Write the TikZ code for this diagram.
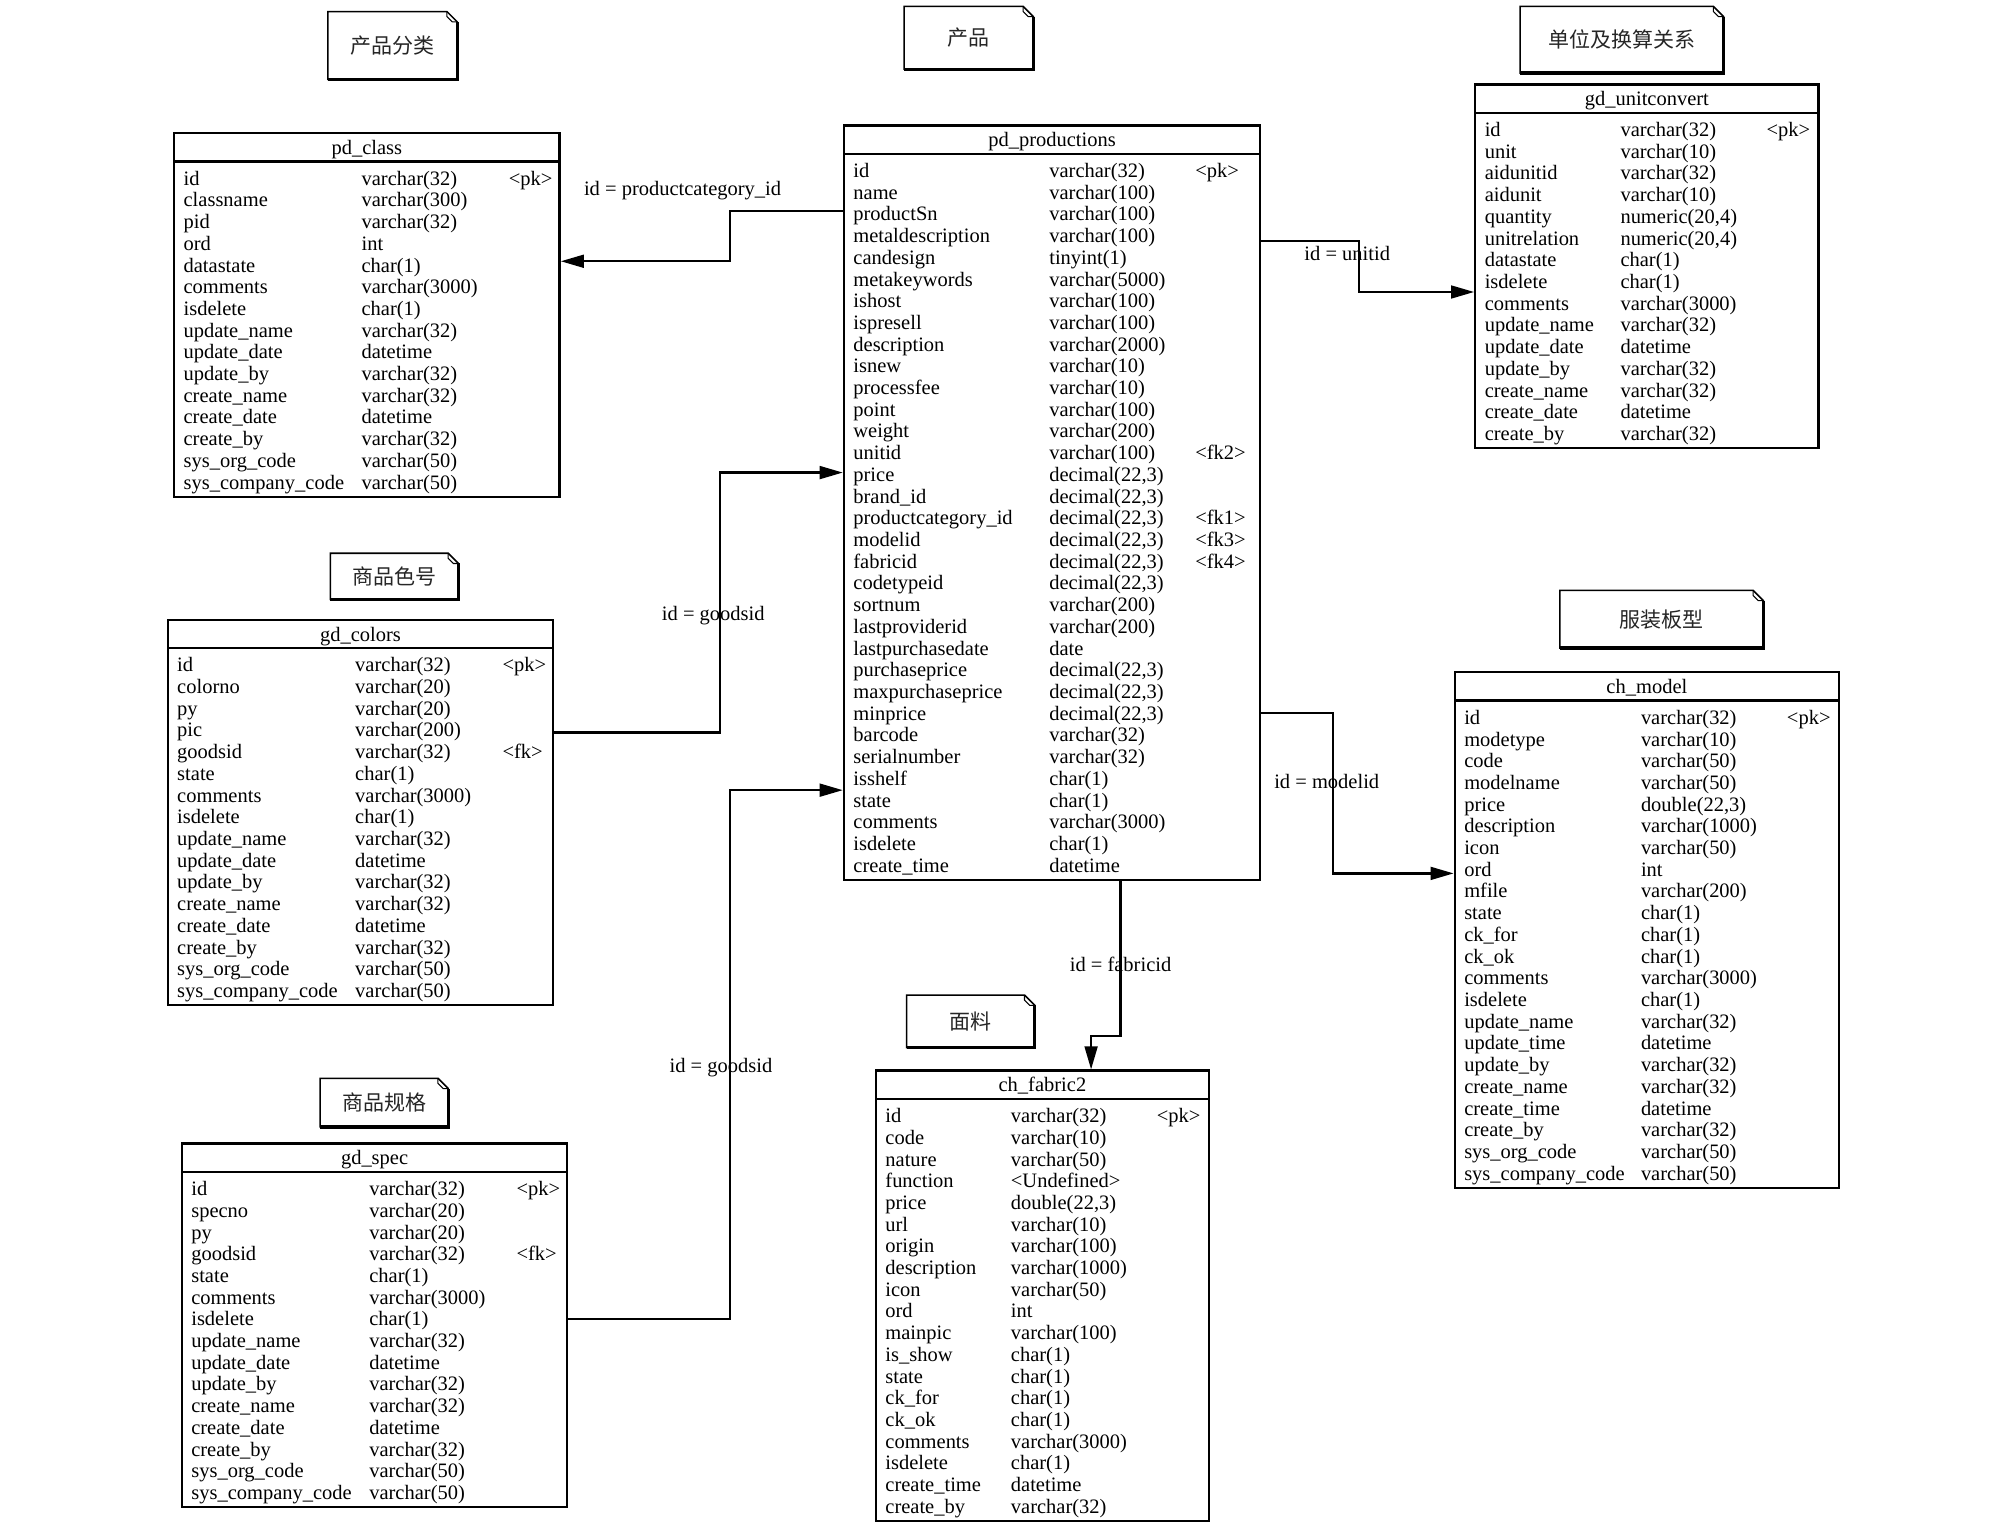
\documentclass[tikz,border=0pt]{standalone}
\usepackage{fontspec}
\setmainfont{Liberation Serif}
\newfontfamily\cjk{Noto Sans CJK SC}
\usetikzlibrary{arrows.meta,fit}
\newcommand\rowfont{\fontsize{8}{9}\selectfont}
\tikzset{
  tblline/.style={line width=0.9pt},
  rowtxt/.style={font=\rowfont, inner sep=0pt, anchor=west, text height=5.8pt, text depth=1.7pt},
  lbl/.style={font=\rowfont, inner sep=0pt},
  notetxt/.style={font=\cjk\fontsize{8.2}{9}\selectfont, inner sep=0pt, text=black!85},
  notel/.style={line width=0.6pt},
  fk/.style={line width=0.9pt, -{Triangle[length=9pt,width=5pt]}},
}
% #1 name, #2 title, #3 x1, #4 y1, #5 x2, #6 rows count, #7 type col x, #8 key col x, #9 rows
\newcommand\erd[9]{%
  \pgfmathsetmacro\erdyb{#4+46.7+(#6-1)*16.95}%
  \node[fit={(#3,#4) (#5,\erdyb)}, inner sep=0pt, draw, tblline] (#1) {};
  \draw[tblline] (#3,#4+22) -- (#5,#4+22);
  \node[rowtxt, anchor=center] (#1-title) at ({(#3+#5)/2},#4+12.5) {#2};
  \foreach \rA/\rB/\rC [count=\i from 0] in {#9} {
    \node[rowtxt] (#1-a\i) at (#3+7,#4+36.5+\i*16.95) {\rA};
    \node[rowtxt] (#1-b\i) at (#7,#4+36.5+\i*16.95) {\rB};
    \node[rowtxt] (#1-c\i) at (#8,#4+36.5+\i*16.95) {\rC};
  }%
}
% #1 name, #2 x1, #3 y1, #4 x2, #5 y2, #6 text
\newcommand\erdnote[6]{%
  \node[notetxt] (#1) at ({(#2+#4)/2},{(#3+#5)/2}) {#6};
  \draw[notel] (#2,#3) -- (#4-8,#3) -- (#4,#3+8) -- (#4,#5) -- (#2,#5) -- cycle;
  \draw[line width=0.4pt] (#4-8,#3) -- (#4-8,#3+4) -- (#4-4,#3+8) -- (#4,#3+8);
  \draw[line width=1.2pt] (#4,#3+8) -- (#4,#5) -- (#2,#5);
}
\begin{document}
\begin{tikzpicture}[x=0.5pt,y=-0.5pt]
\useasboundingbox[fill=white] (0,0) rectangle (1568,1191);

% notes
\erdnote{n1}{256}{9}{357}{62}{产品分类}
\erdnote{n2}{706}{5}{807}{54}{产品}
\erdnote{n3}{1187}{5}{1346}{57}{单位及换算关系}
\erdnote{n4}{258}{432}{358}{468}{商品色号}
\erdnote{n5}{1218}{461}{1377}{506}{服装板型}
\erdnote{n6}{708}{777}{808}{818}{面料}
\erdnote{n7}{250}{842}{350}{880}{商品规格}

% tables
\erd{cls}{pd\_class}{136}{104}{437}{15}{282}{397}{%
id/varchar(32)/<pk>, classname/varchar(300)/{}, pid/varchar(32)/{}, ord/int/{}, datastate/char(1)/{}, comments/varchar(3000)/{}, isdelete/char(1)/{}, update\_name/varchar(32)/{}, update\_date/datetime/{}, update\_by/varchar(32)/{}, create\_name/varchar(32)/{}, create\_date/datetime/{}, create\_by/varchar(32)/{}, sys\_org\_code/varchar(50)/{}, sys\_company\_code/varchar(50)/{}}

\erd{prod}{pd\_productions}{659}{98}{984}{33}{819}{933}{%
id/varchar(32)/<pk>, name/varchar(100)/{}, productSn/varchar(100)/{}, metaldescription/varchar(100)/{}, candesign/tinyint(1)/{}, metakeywords/varchar(5000)/{}, ishost/varchar(100)/{}, ispresell/varchar(100)/{}, description/varchar(2000)/{}, isnew/varchar(10)/{}, processfee/varchar(10)/{}, point/varchar(100)/{}, weight/varchar(200)/{}, unitid/varchar(100)/<fk2>, price/{decimal(22,3)}/{}, brand\_id/{decimal(22,3)}/{}, productcategory\_id/{decimal(22,3)}/<fk1>, modelid/{decimal(22,3)}/<fk3>, fabricid/{decimal(22,3)}/<fk4>, codetypeid/{decimal(22,3)}/{}, sortnum/varchar(200)/{}, lastproviderid/varchar(200)/{}, lastpurchasedate/date/{}, purchaseprice/{decimal(22,3)}/{}, maxpurchaseprice/{decimal(22,3)}/{}, minprice/{decimal(22,3)}/{}, barcode/varchar(32)/{}, serialnumber/varchar(32)/{}, isshelf/char(1)/{}, state/char(1)/{}, comments/varchar(3000)/{}, isdelete/char(1)/{}, create\_time/datetime/{}}

\erd{uc}{gd\_unitconvert}{1152}{66}{1420}{15}{1265}{1379}{%
id/varchar(32)/<pk>, unit/varchar(10)/{}, aidunitid/varchar(32)/{}, aidunit/varchar(10)/{}, quantity/{numeric(20,4)}/{}, unitrelation/{numeric(20,4)}/{}, datastate/char(1)/{}, isdelete/char(1)/{}, comments/varchar(3000)/{}, update\_name/varchar(32)/{}, update\_date/datetime/{}, update\_by/varchar(32)/{}, create\_name/varchar(32)/{}, create\_date/datetime/{}, create\_by/varchar(32)/{}}

\erd{col}{gd\_colors}{131}{484}{432}{16}{277}{392}{%
id/varchar(32)/<pk>, colorno/varchar(20)/{}, py/varchar(20)/{}, pic/varchar(200)/{}, goodsid/varchar(32)/<fk>, state/char(1)/{}, comments/varchar(3000)/{}, isdelete/char(1)/{}, update\_name/varchar(32)/{}, update\_date/datetime/{}, update\_by/varchar(32)/{}, create\_name/varchar(32)/{}, create\_date/datetime/{}, create\_by/varchar(32)/{}, sys\_org\_code/varchar(50)/{}, sys\_company\_code/varchar(50)/{}}

\erd{spec}{gd\_spec}{142}{893}{443}{15}{288}{403}{%
id/varchar(32)/<pk>, specno/varchar(20)/{}, py/varchar(20)/{}, goodsid/varchar(32)/<fk>, state/char(1)/{}, comments/varchar(3000)/{}, isdelete/char(1)/{}, update\_name/varchar(32)/{}, update\_date/datetime/{}, update\_by/varchar(32)/{}, create\_name/varchar(32)/{}, create\_date/datetime/{}, create\_by/varchar(32)/{}, sys\_org\_code/varchar(50)/{}, sys\_company\_code/varchar(50)/{}}

\erd{fab}{ch\_fabric2}{684}{836}{944}{19}{789}{903}{%
id/varchar(32)/<pk>, code/varchar(10)/{}, nature/varchar(50)/{}, function/<Undefined>/{}, price/{double(22,3)}/{}, url/varchar(10)/{}, origin/varchar(100)/{}, description/varchar(1000)/{}, icon/varchar(50)/{}, ord/int/{}, mainpic/varchar(100)/{}, is\_show/char(1)/{}, state/char(1)/{}, ck\_for/char(1)/{}, ck\_ok/char(1)/{}, comments/varchar(3000)/{}, isdelete/char(1)/{}, create\_time/datetime/{}, create\_by/varchar(32)/{}}

\erd{model}{ch\_model}{1136}{525}{1436}{22}{1281}{1395}{%
id/varchar(32)/<pk>, modetype/varchar(10)/{}, code/varchar(50)/{}, modelname/varchar(50)/{}, price/{double(22,3)}/{}, description/varchar(1000)/{}, icon/varchar(50)/{}, ord/int/{}, mfile/varchar(200)/{}, state/char(1)/{}, ck\_for/char(1)/{}, ck\_ok/char(1)/{}, comments/varchar(3000)/{}, isdelete/char(1)/{}, update\_name/varchar(32)/{}, update\_time/datetime/{}, update\_by/varchar(32)/{}, create\_name/varchar(32)/{}, create\_time/datetime/{}, create\_by/varchar(32)/{}, sys\_org\_code/varchar(50)/{}, sys\_company\_code/varchar(50)/{}}

% connectors
\draw[fk] (prod.west |- 0,165) -| (570,204) -- (cls.east |- 0,204);
\draw[fk] (prod.east |- 0,188) -| (1061,228) -- (uc.west |- 0,228);
\draw[fk] (col.east |- 0,572) -| (562,369) -- (prod.west |- 0,369);
\draw[fk] (spec.east |- 0,1030) -| (570,617) -- (prod.west |- 0,617);
\draw[fk] (prod.east |- 0,557) -| (1041,682) -- (model.west |- 0,682);
\draw[fk] (prod.south -| 875,0) |- (852,809) -- (fab.north -| 852,0);

% labels
\node[lbl] (l1) at (533,149) {id = productcategory\_id};
\node[lbl] (l2) at (1052,198) {id = unitid};
\node[lbl] (l3) at (557,481) {id = goodsid};
\node[lbl] (l4) at (563,834) {id = goodsid};
\node[lbl] (l5) at (1036,610) {id = modelid};
\node[lbl] (l6) at (875,753) {id = fabricid};
\end{tikzpicture}
\end{document}
